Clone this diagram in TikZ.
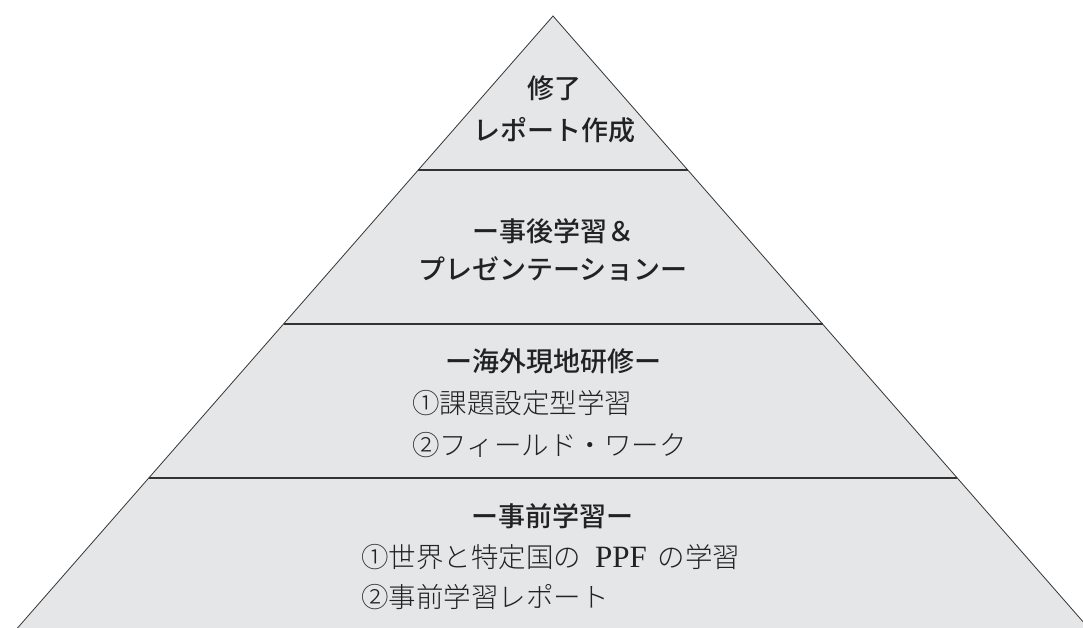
\documentclass[tikz,border=0pt]{standalone}
\usepackage{fontspec}
\newfontfamily\jpm{Noto Sans CJK JP Medium}
\newfontfamily\jpl{Noto Sans CJK JP Light}
\newfontfamily\libserif{Liberation Serif}
\definecolor{layerfill}{HTML}{E5E6E8}
\definecolor{edgecol}{HTML}{333333}
\definecolor{txt}{HTML}{222222}
\newcommand{\ppftext}{{\libserif\fontsize{31}{30}\selectfont PPF}}
\begin{document}
\begin{tikzpicture}[x=1pt,y=-1pt,
  side/.style={draw=edgecol,line width=0.8pt},
  divider/.style={draw=edgecol,line width=2.2pt},
  head/.style={inner sep=0pt,text=txt,font=\jpm\fontsize{27}{30}\selectfont},
  body/.style={inner sep=0pt,anchor=west,text=txt,font=\jpl\fontsize{27.5}{30}\selectfont}]
\useasboundingbox (0,0) rectangle (1083,628);
\clip (0,0) rectangle (1083,628);
\coordinate (apex) at (553,16);
\coordinate (bl) at (14,632);
\coordinate (br) at (1092,632);
\fill[layerfill] (apex) -- (bl) -- (br) -- cycle;
\draw[side] (bl) -- (apex) -- (br);
\draw[divider] (418.25,170) -- (687.75,170);
\draw[divider] (283.5,324) -- (822.5,324);
\draw[divider] (148.75,478) -- (957.25,478);
% layer 1
\node[head] (h1a) at (554,88) {修了};
\node[head] (h1b) at (554,130) {レポート作成};
% layer 2
\node[head] (h2a) at (553,231) {ー事後学習＆};
\node[head] (h2b) at (553,269) {プレゼンテーションー};
% layer 3
\node[head] (h3) at (553,361) {ー海外現地研修ー};
\node[body] (b3a) at (412,403) {①課題設定型学習};
\node[body] (b3b) at (412,445) {②フィールド・ワーク};
% layer 4
\node[head] (h4) at (552,516) {ー事前学習ー};
\node[body] (b4a) at (361,557) {①世界と特定国の\hspace{14pt}\ppftext\hspace{11pt}の学習};
\node[body] (b4b) at (361,597) {②事前学習レポート};
\end{tikzpicture}
\end{document}
